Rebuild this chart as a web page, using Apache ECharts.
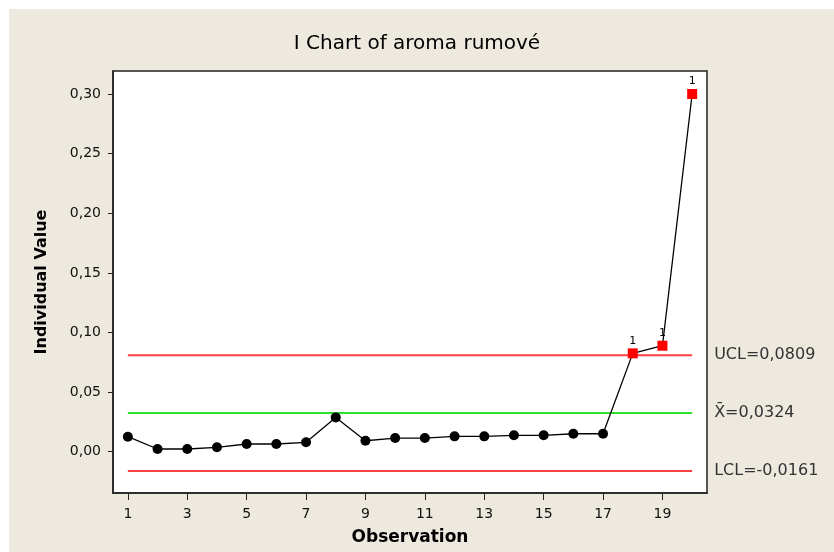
<!DOCTYPE html>
<html>
<head>
<meta charset="utf-8">
<title>I Chart of aroma rumové</title>
<script src="https://cdn.jsdelivr.net/npm/echarts@6/dist/echarts.min.js"></script>
<style>
  html, body { margin: 0; padding: 0; background: #ffffff; }
  #chart { width: 834px; height: 552px; }
</style>
</head>
<body>
<div id="chart"></div>
<script>
// Individual observations of "aroma rumové"
const observations = [1, 2, 3, 4, 5, 6, 7, 8, 9, 10, 11, 12, 13, 14, 15, 16, 17, 18, 19, 20];
const aroma = [0.0126, 0.0023, 0.0023, 0.0037, 0.0065, 0.0065, 0.0079, 0.0288, 0.0092, 0.0115,
               0.0115, 0.0129, 0.0129, 0.0138, 0.0138, 0.0151, 0.0151, 0.0825, 0.0889, 0.3000];

// Control limits
const ucl = 0.0809;
const centerLine = 0.0324;
const lcl = -0.0161;

// Axis ticks
const yTicks = [0, 0.05, 0.10, 0.15, 0.20, 0.25, 0.30];
const xTicks = [1, 3, 5, 7, 9, 11, 13, 15, 17, 19];

const FONT = 'DejaVu Sans';
const comma = (v, d) => v.toFixed(d).replace('.', ',');

// Points beyond a control limit fail test 1: red square with a "1" flag
const points = observations.map((obs, i) => {
  const v = aroma[i];
  const fail = v > ucl || v < lcl;
  return {
    value: [obs, v],
    symbol: fail ? 'rect' : 'circle',
    symbolSize: 10,
    itemStyle: { color: fail ? '#ff0000' : '#000000' },
    label: {
      show: fail,
      formatter: '1',
      position: 'top',
      distance: 2,
      fontFamily: FONT,
      fontSize: 11,
      color: '#000'
    }
  };
});

const first = observations[0];
const last = observations[observations.length - 1];

function limitSeries(value, text, color) {
  return {
    type: 'line',
    data: [[first, value], [last, value]],
    symbol: 'none',
    silent: true,
    lineStyle: { color: color, width: 2 },
    z: 1,
    endLabel: {
      show: true,
      formatter: text + comma(value, 4),
      distance: 22,
      fontFamily: FONT,
      fontSize: 16,
      color: '#333'
    }
  };
}

const chart = echarts.init(document.getElementById('chart'), null, { renderer: 'canvas' });

chart.setOption({
  animation: false,
  backgroundColor: '#ffffff',
  graphic: [{
    type: 'rect',
    z: -10,
    silent: true,
    shape: { x: 9, y: 9, width: 834, height: 552 },
    style: { fill: '#ede9df' }
  }],
  title: {
    text: 'I Chart of aroma rumové',
    left: 'center',
    top: 29,
    textStyle: { fontFamily: FONT, fontSize: 20, fontWeight: 'normal', color: '#000' }
  },
  grid: {
    left: 113,
    right: 127,
    top: 71,
    bottom: 59,
    show: true,
    backgroundColor: '#ffffff',
    borderColor: '#222',
    borderWidth: 1.5
  },
  xAxis: {
    type: 'value',
    min: 0.5,
    max: 20.5,
    name: 'Observation',
    nameLocation: 'middle',
    nameGap: 36,
    nameTextStyle: { fontFamily: FONT, fontSize: 17, fontWeight: 'bold', color: '#000' },
    axisLine: { show: true, onZero: false, lineStyle: { color: '#222', width: 1.5 } },
    axisTick: { show: true, length: 7, customValues: xTicks, lineStyle: { color: '#222' } },
    axisLabel: {
      customValues: xTicks,
      margin: 14,
      fontFamily: FONT,
      fontSize: 14,
      color: '#111',
      formatter: v => String(v)
    },
    splitLine: { show: false }
  },
  yAxis: {
    type: 'value',
    min: -0.0346,
    max: 0.3193,
    name: 'Individual Value',
    nameLocation: 'middle',
    nameGap: 63,
    nameTextStyle: { fontFamily: FONT, fontSize: 16, fontWeight: 'bold', color: '#000' },
    axisLine: { show: true, onZero: false, lineStyle: { color: '#222', width: 1.5 } },
    axisTick: { show: true, length: 5, customValues: yTicks, lineStyle: { color: '#222' } },
    axisLabel: {
      customValues: yTicks,
      margin: 12,
      fontFamily: FONT,
      fontSize: 14,
      color: '#111',
      formatter: v => comma(v, 2)
    },
    splitLine: { show: false }
  },
  series: [
    limitSeries(ucl, 'UCL=', '#ff4040'),
    limitSeries(centerLine, 'X\u0304=', '#2ee02e'),
    limitSeries(lcl, 'LCL=', '#ff4040'),
    {
      type: 'line',
      data: points,
      z: 3,
      lineStyle: { color: '#000', width: 1.3 },
      label: { show: false }
    }
  ]
});
</script>
</body>
</html>
